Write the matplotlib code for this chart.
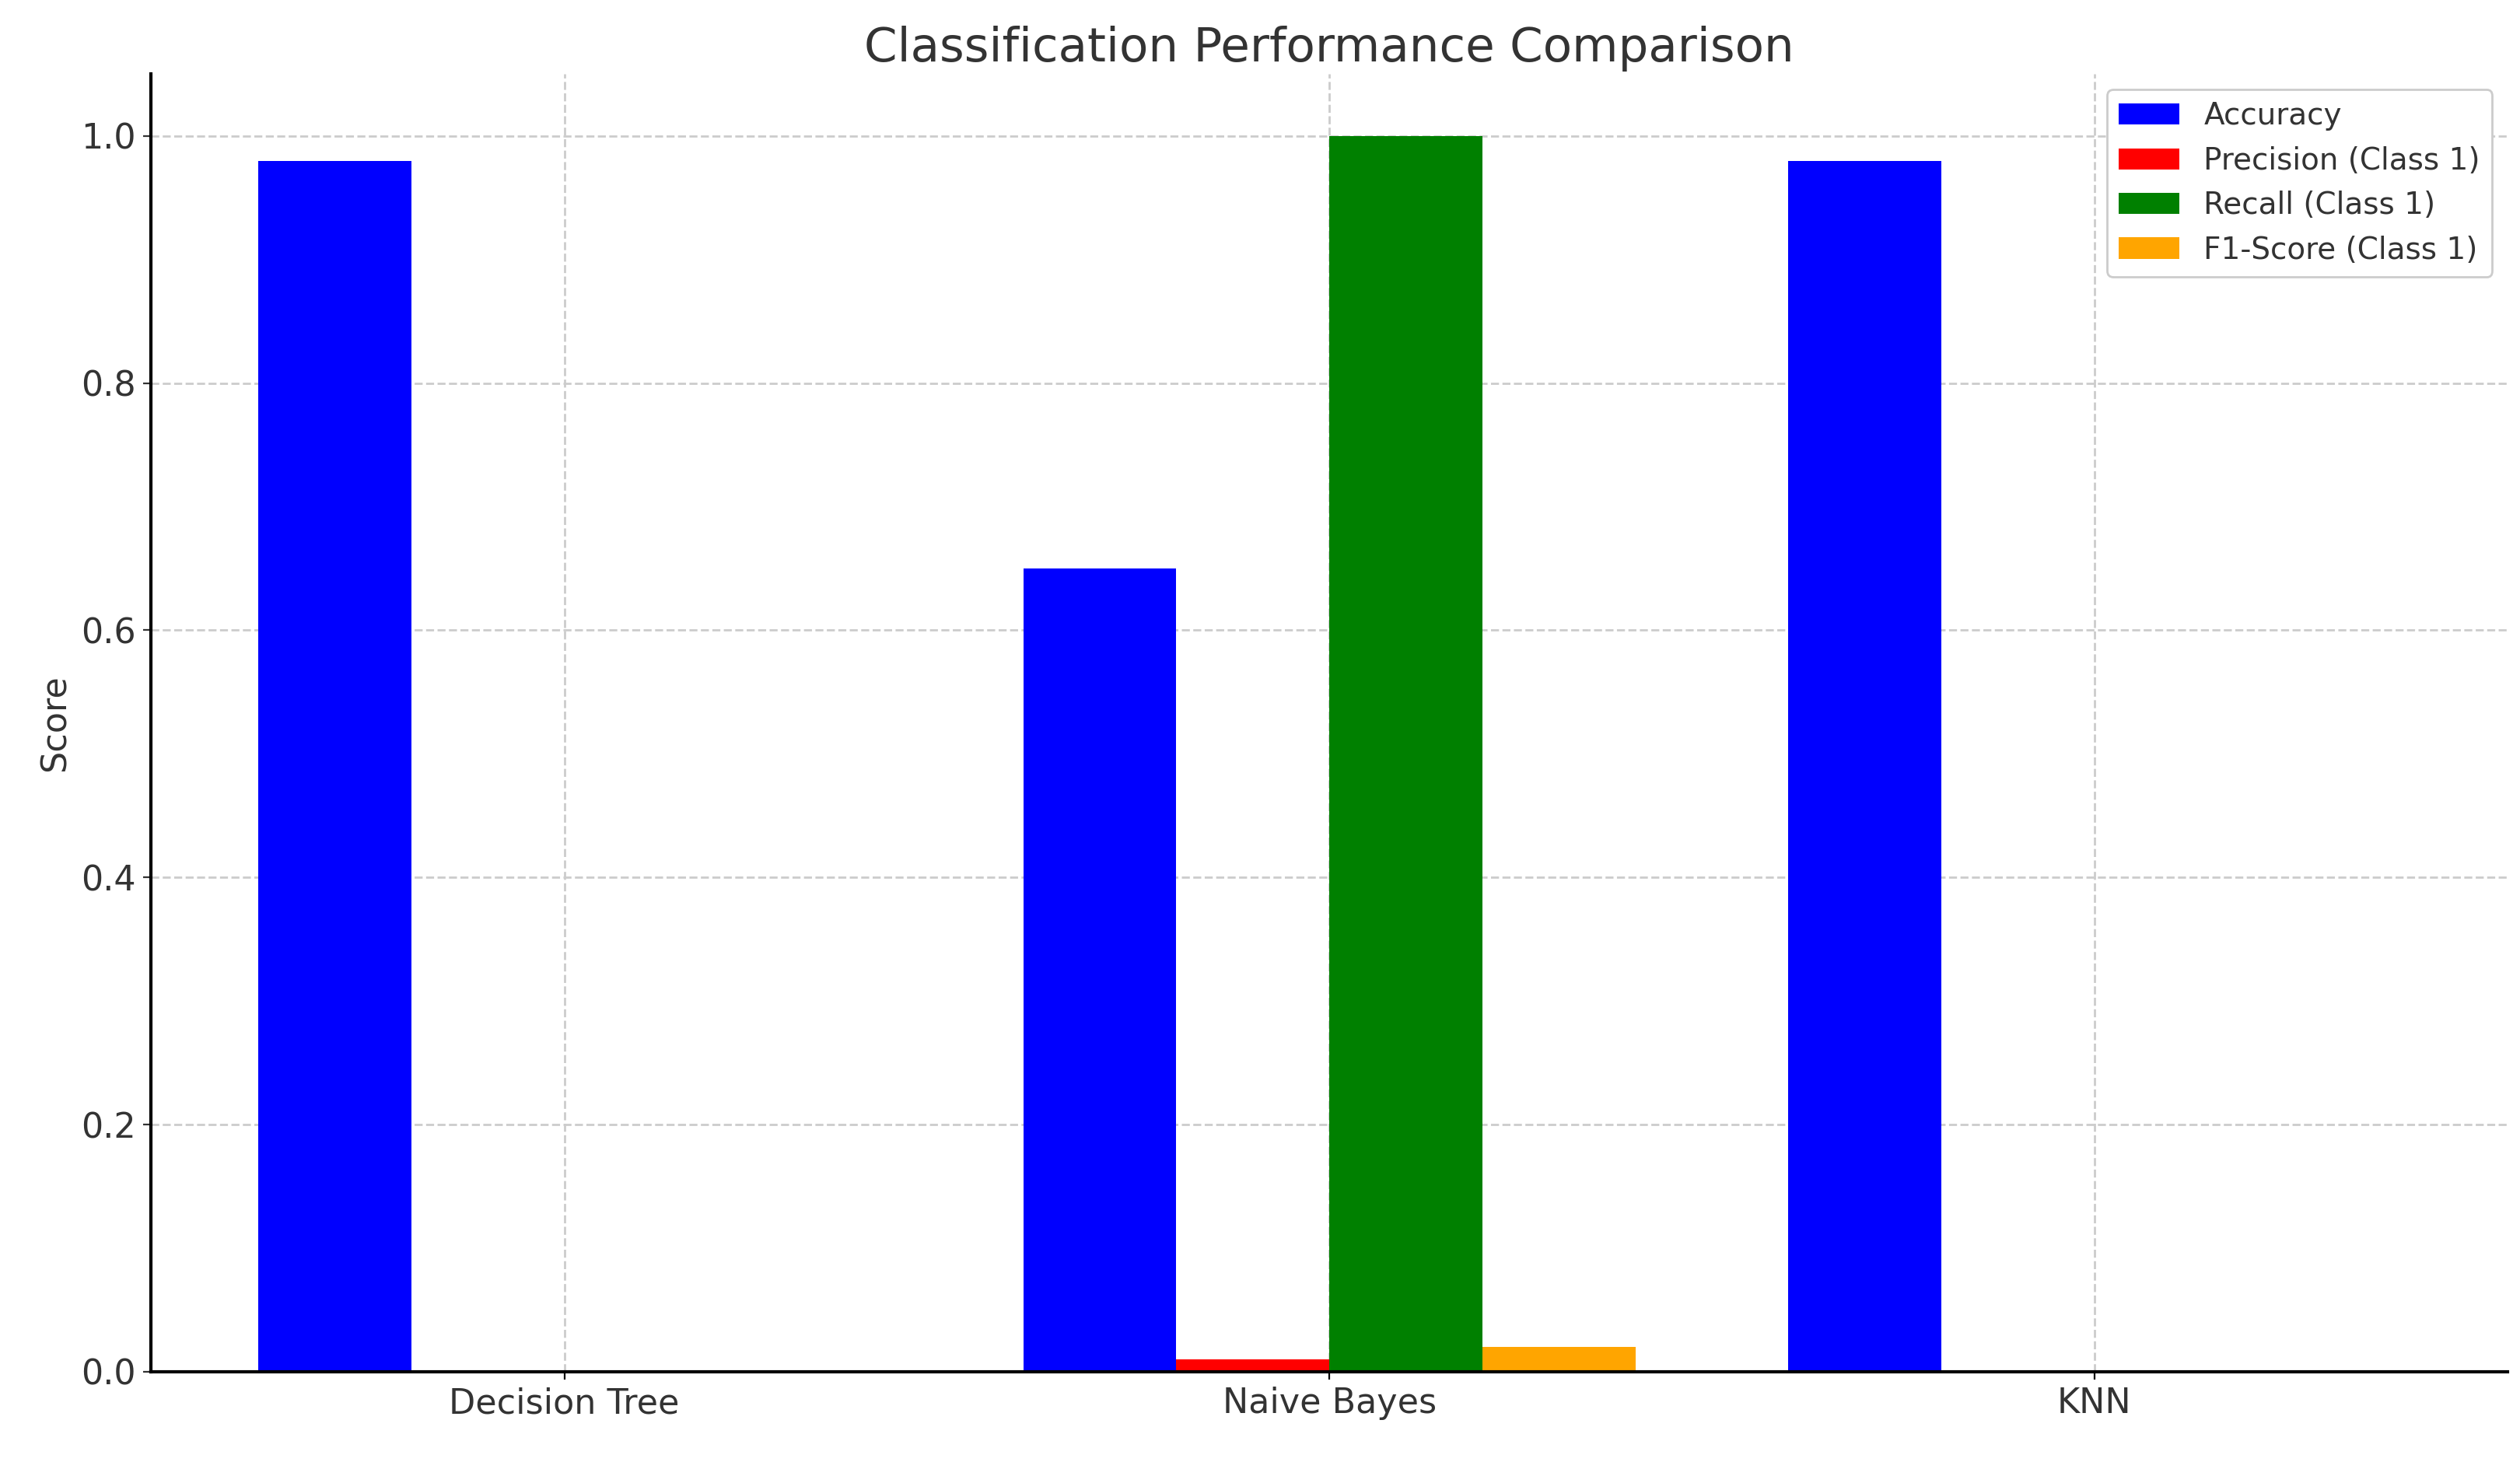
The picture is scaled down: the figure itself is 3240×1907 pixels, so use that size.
import matplotlib
matplotlib.use("Agg")
import matplotlib.pyplot as plt
import numpy as np

models = ["Decision Tree", "Naive Bayes", "KNN"]
accuracy = [0.98, 0.65, 0.98]
precision = [0.0, 0.01, 0.0]
recall = [0.0, 1.0, 0.0]
f1 = [0.0, 0.02, 0.0]

series = [("Accuracy", accuracy, "blue"),
          ("Precision (Class 1)", precision, "red"),
          ("Recall (Class 1)", recall, "green"),
          ("F1-Score (Class 1)", f1, "orange")]

fig, ax = plt.subplots(figsize=(16.2, 9.535), dpi=200)
x = np.arange(len(models))
w = 0.2
for i, (lab, vals, c) in enumerate(series):
    ax.bar(x + (i - 1.5) * w, vals, w, label=lab, color=c)

ax.set_xticks(x)
ax.set_xticklabels(models, fontsize=16, color="#333333")
ax.tick_params(axis="y", labelsize=16, colors="#333333")
ax.set_ylabel("Score", fontsize=16, color="#333333")
ax.set_title("Classification Performance Comparison", fontsize=22, color="#333333")
ax.set_ylim(0, 1.05)
ax.grid(True, linestyle="--", color="#cccccc", linewidth=1)
ax.set_axisbelow(True)
for s in ["top", "right"]:
    ax.spines[s].set_visible(False)
ax.spines["left"].set_linewidth(1.5)
ax.spines["bottom"].set_linewidth(1.5)
leg = ax.legend(fontsize=14, loc="upper right", framealpha=1)
for t in leg.get_texts():
    t.set_color("#333333")
fig.subplots_adjust(left=0.06, right=0.995, top=0.95, bottom=0.075)
fig.savefig("out.png", dpi=200)
